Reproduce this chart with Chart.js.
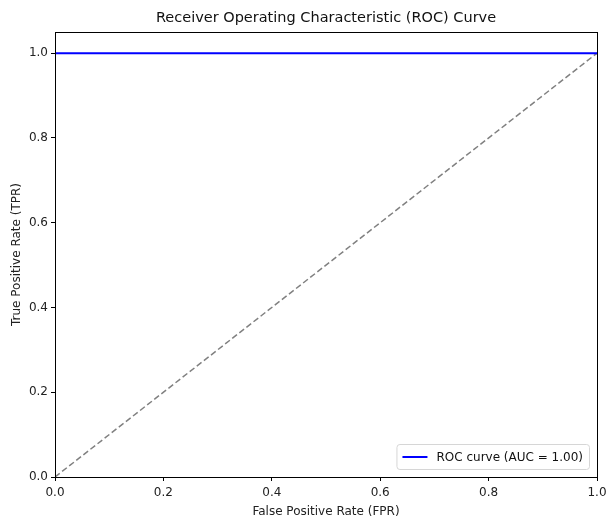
<!DOCTYPE html>
<html><head><meta charset="utf-8">
<script src="https://cdn.jsdelivr.net/npm/chart.js@4.4.1/dist/chart.umd.min.js"></script>
<style>html,body{margin:0;padding:0;background:#fff}#c{display:block}</style>
</head><body>
<canvas id="c" width="606" height="519"></canvas>
<script>
const fpr = [0, 0, 1];
const tpr = [0, 1, 1];
const chanceX = [0, 1];
const chanceY = [0, 1];
const xTicks = [0, 0.2, 0.4, 0.6, 0.8, 1.0];
const yTicks = [0, 0.2, 0.4, 0.6, 0.8, 1.0];
const rocLabel = 'ROC curve (AUC = 1.00)';
const titleText = 'Receiver Operating Characteristic (ROC) Curve';
const xTitle = 'False Positive Rate (FPR)';
const yTitle = 'True Positive Rate (TPR)';

const FONT = "'DejaVu Sans', sans-serif";

const frame = {
  id: 'frame',
  afterDatasetsDraw(chart) {
    const a = chart.chartArea, ctx = chart.ctx;
    ctx.save();
    ctx.strokeStyle = '#000';
    ctx.lineWidth = 1;
    ctx.strokeRect(Math.round(a.left) + 0.5, Math.round(a.top) + 0.5, Math.round(a.right - a.left), Math.round(a.bottom - a.top));
    ctx.restore();
  },
  afterDraw(chart) {
    const a = chart.chartArea, ctx = chart.ctx;
    ctx.save();
    // title centred over the plot area
    ctx.font = "14.5px " + FONT;
    ctx.fillStyle = '#111';
    ctx.textAlign = 'center';
    ctx.textBaseline = 'middle';
    ctx.fillText(titleText, (a.left + a.right) / 2, 18);
    // legend
    ctx.textAlign = 'left';
    ctx.font = "12px " + FONT;
    const tw = ctx.measureText(rocLabel).width;
    const w = tw + 46, h = 25;
    const x = a.right - 8 - w, y = a.bottom - 8 - h;
    ctx.beginPath();
    if (ctx.roundRect) ctx.roundRect(x + 0.5, y + 0.5, w, h, 3); else ctx.rect(x + 0.5, y + 0.5, w, h);
    ctx.fillStyle = 'rgba(255,255,255,0.8)';
    ctx.fill();
    ctx.strokeStyle = '#d6d6d6';
    ctx.lineWidth = 1;
    ctx.stroke();
    ctx.strokeStyle = '#0000ff';
    ctx.lineWidth = 2;
    ctx.beginPath();
    ctx.moveTo(x + 6, y + h / 2 + 0.5);
    ctx.lineTo(x + 31, y + h / 2 + 0.5);
    ctx.stroke();
    ctx.fillStyle = '#111';
    ctx.fillText(rocLabel, x + 40, y + h / 2 + 1);
    ctx.restore();
  }
};

new Chart(document.getElementById('c'), {
  type: 'scatter',
  data: {
    datasets: [
      {
        label: rocLabel,
        data: fpr.map((v, i) => ({x: v, y: tpr[i]})),
        showLine: true,
        borderColor: '#0000ff',
        borderWidth: 2,
        pointRadius: 0,
        fill: false,
        tension: 0
      },
      {
        label: 'chance',
        data: chanceX.map((v, i) => ({x: v, y: chanceY[i]})),
        showLine: true,
        borderColor: '#808080',
        borderWidth: 1.5,
        borderDash: [6, 3],
        pointRadius: 0,
        fill: false
      }
    ]
  },
  options: {
    responsive: false,
    animation: false,
    layout: {padding: {left: 0, right: 9, top: 32, bottom: 0}},
    plugins: {
      legend: {display: false},
      tooltip: {enabled: false},
      title: {display: false}
    },
    scales: {
      x: {
        type: 'linear',
        min: 0, max: 1,
        afterBuildTicks(s) { s.ticks = xTicks.map(v => ({value: v})); },
        afterFit(s) { s.height = 42; s.paddingLeft = 0; s.paddingRight = 0; },
        grid: {drawOnChartArea: false, drawTicks: true, tickLength: 4, color: '#000', tickColor: '#000'},
        border: {display: false},
        ticks: {color: '#222', font: {family: FONT, size: 12}, padding: 5, maxRotation: 0,
          callback: v => v.toFixed(1)},
        title: {display: true, text: xTitle, color: '#222', font: {family: FONT, size: 12}, padding: {top: 0, bottom: 0}}
      },
      y: {
        type: 'linear',
        min: 0, max: 1.05,
        afterBuildTicks(s) { s.ticks = yTicks.map(v => ({value: v})); },
        afterFit(s) { s.width = 55; s.paddingTop = 0; s.paddingBottom = 0; },
        grid: {drawOnChartArea: false, drawTicks: true, tickLength: 4, color: '#000', tickColor: '#000'},
        border: {display: false},
        ticks: {color: '#222', font: {family: FONT, size: 12}, padding: 3,
          callback: v => v.toFixed(1)},
        title: {display: true, text: yTitle, color: '#222', font: {family: FONT, size: 12}, padding: {top: 10, bottom: 0}}
      }
    }
  },
  plugins: [frame]
});
</script>
</body></html>
